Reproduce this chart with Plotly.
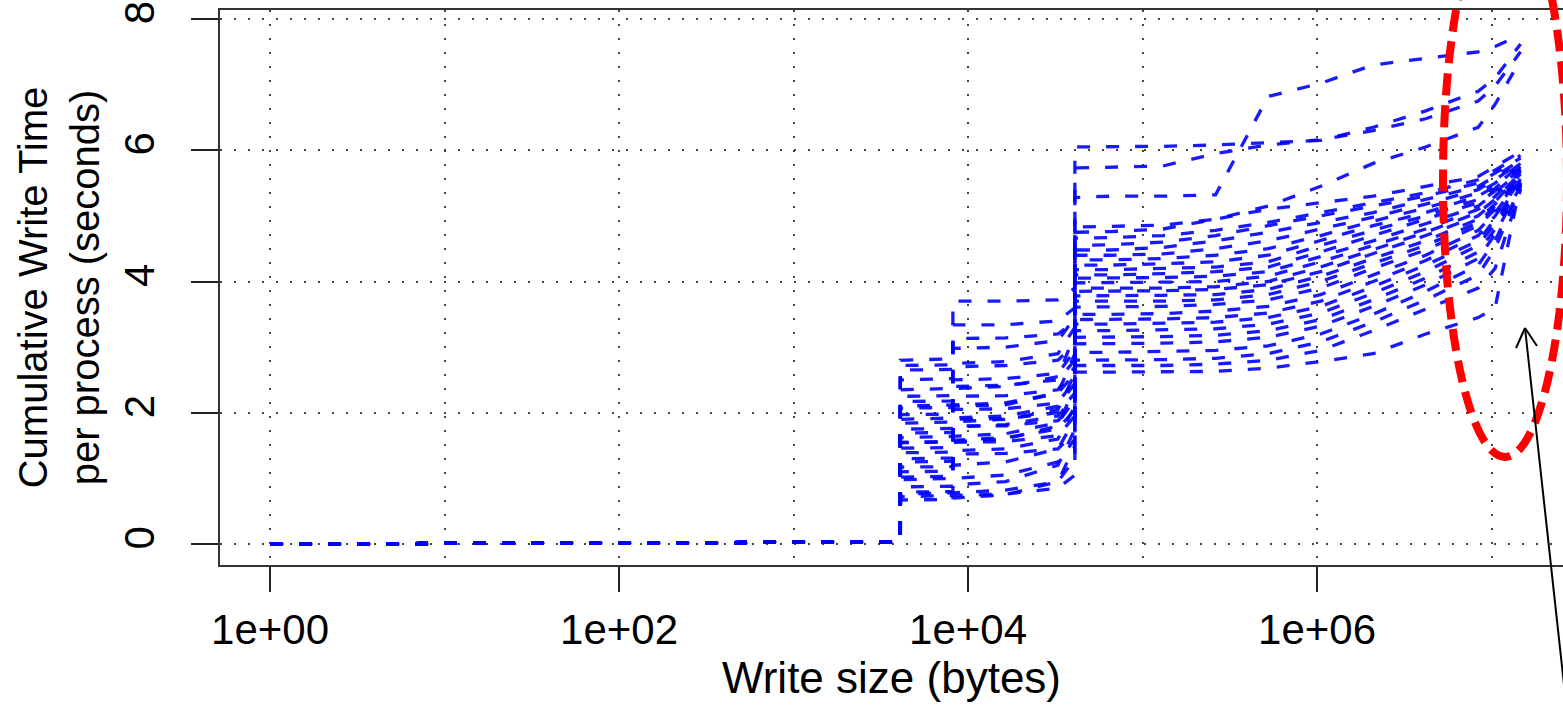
import plotly.graph_objects as go

# ---------------- data ----------------
# small writes (all processes): cumulative time stays ~0
SMALL_SIZES = [1, 100, 1000, 4095]
SMALL_TIMES = [0.0, 0.01, 0.02, 0.03]

# larger write sizes (bytes)
SIZES = [4096, 8191, 8192, 16384, 32768, 40959, 40960, 65536, 131072, 262144,
         524288, 1048576, 2097152, 4194304, 8388608, 10485760, 14680064]

# cumulative write time per process (seconds), one list per process
P01 = [2.80, 2.82, 3.70, 3.70, 3.72, 3.90, 5.28, 5.30, 5.30, 5.32, 6.82, 7.02, 7.30, 7.40, 7.50, 7.58, 7.76]
P02 = [2.65, 2.66, 3.34, 3.34, 3.40, 3.60, 6.05, 6.05, 6.06, 6.08, 6.12, 6.15, 6.35, 6.60, 6.90, 7.10, 7.62]
P03 = [2.50, 2.52, 2.98, 3.00, 3.10, 3.45, 5.73, 5.74, 5.76, 5.95, 6.08, 6.16, 6.30, 6.48, 6.75, 6.98, 7.50]
P04 = [2.35, 2.36, 2.37, 2.40, 2.55, 3.20, 4.83, 4.84, 4.86, 4.95, 5.15, 5.45, 5.80, 6.05, 6.35, 6.70, 7.38]
P05 = [2.17, 2.18, 3.13, 3.14, 3.20, 3.40, 4.75, 4.76, 4.80, 4.95, 5.10, 5.20, 5.30, 5.45, 5.60, 5.75, 5.98]
P06 = [2.07, 2.08, 2.10, 2.12, 2.30, 2.90, 4.66, 4.67, 4.70, 4.78, 4.90, 5.05, 5.20, 5.35, 5.55, 5.70, 5.92]
P07 = [1.97, 1.98, 2.70, 2.72, 2.80, 3.05, 4.55, 4.56, 4.60, 4.70, 4.85, 5.00, 5.15, 5.30, 5.50, 5.65, 5.88]
P08 = [1.84, 1.85, 1.86, 1.90, 2.05, 2.60, 4.48, 4.48, 4.52, 4.62, 4.75, 4.90, 5.05, 5.25, 5.45, 5.60, 5.85]
P09 = [1.69, 1.70, 2.50, 2.52, 2.60, 2.95, 4.40, 4.40, 4.42, 4.50, 4.62, 4.80, 4.98, 5.18, 5.40, 5.55, 5.82]
P10 = [1.54, 1.55, 1.56, 1.60, 1.80, 2.40, 4.33, 4.33, 4.35, 4.40, 4.50, 4.70, 4.92, 5.12, 5.35, 5.50, 5.80]
P11 = [1.46, 1.47, 2.25, 2.26, 2.35, 2.70, 4.25, 4.25, 4.27, 4.30, 4.40, 4.62, 4.85, 5.05, 5.30, 5.45, 5.78]
P12 = [1.39, 1.40, 1.42, 1.45, 1.60, 2.10, 4.18, 4.18, 4.20, 4.22, 4.30, 4.55, 4.78, 5.00, 5.25, 5.42, 5.75]
P13 = [1.25, 1.26, 2.05, 2.06, 2.15, 2.50, 4.10, 4.10, 4.12, 4.15, 4.22, 4.45, 4.70, 4.95, 5.20, 5.38, 5.72]
P14 = [1.17, 1.18, 1.20, 1.25, 1.45, 1.90, 4.05, 4.05, 4.06, 4.08, 4.15, 4.38, 4.62, 4.88, 5.15, 5.35, 5.70]
P15 = [1.02, 1.03, 1.90, 1.91, 2.00, 2.30, 3.98, 3.98, 3.99, 4.00, 4.08, 4.30, 4.55, 4.80, 5.10, 5.30, 5.68]
P16 = [0.87, 0.88, 0.90, 0.95, 1.20, 1.75, 3.90, 3.90, 3.90, 3.92, 4.00, 4.22, 4.48, 4.75, 5.05, 5.25, 5.66]
P17 = [0.79, 0.80, 1.80, 1.80, 1.88, 2.15, 3.85, 3.85, 3.86, 3.88, 3.95, 4.15, 4.42, 4.70, 5.00, 5.22, 5.64]
P18 = [0.67, 0.68, 0.70, 0.75, 0.95, 1.50, 3.78, 3.78, 3.79, 3.80, 3.88, 4.08, 4.35, 4.62, 4.95, 5.18, 5.62]
P19 = [2.72, 2.73, 2.75, 2.78, 2.90, 3.30, 3.70, 3.70, 3.70, 3.72, 3.80, 4.00, 4.28, 4.55, 4.90, 5.15, 5.60]
P20 = [2.25, 2.26, 2.40, 2.42, 2.50, 2.80, 3.61, 3.61, 3.62, 3.65, 3.72, 3.90, 4.20, 4.48, 4.85, 5.10, 5.58]
P21 = [1.62, 1.63, 1.64, 1.68, 1.85, 2.20, 3.50, 3.50, 3.51, 3.55, 3.62, 3.80, 4.10, 4.40, 4.78, 5.05, 5.56]
P22 = [1.30, 1.31, 1.55, 1.56, 1.65, 1.95, 3.42, 3.42, 3.43, 3.45, 3.52, 3.70, 4.00, 4.32, 4.70, 5.00, 5.54]
P23 = [0.98, 0.99, 1.00, 1.05, 1.25, 1.60, 3.35, 3.35, 3.36, 3.38, 3.45, 3.62, 3.92, 4.25, 4.62, 4.95, 5.52]
P24 = [1.90, 1.91, 1.92, 1.95, 2.10, 2.45, 3.25, 3.25, 3.26, 3.28, 3.35, 3.52, 3.82, 4.15, 4.55, 4.88, 5.50]
P25 = [1.75, 1.76, 1.78, 1.82, 1.95, 2.25, 3.15, 3.15, 3.16, 3.18, 3.25, 3.42, 3.72, 4.05, 4.45, 4.80, 5.48]
P26 = [1.10, 1.11, 1.37, 1.38, 1.45, 1.70, 3.05, 3.05, 3.06, 3.08, 3.15, 3.32, 3.62, 3.95, 4.35, 4.72, 5.46]
P27 = [0.76, 0.77, 0.78, 0.82, 0.95, 1.30, 2.92, 2.92, 2.93, 2.95, 3.02, 3.20, 3.50, 3.85, 4.25, 4.62, 5.44]
P28 = [1.55, 1.56, 1.58, 1.62, 1.75, 2.05, 2.80, 2.80, 2.81, 2.83, 2.90, 3.08, 3.38, 3.72, 4.10, 4.50, 5.42]
P29 = [2.10, 2.11, 2.12, 2.15, 2.30, 2.60, 2.72, 2.72, 2.72, 2.74, 2.80, 2.95, 3.25, 3.58, 3.90, 4.20, 5.40]
P30 = [0.72, 0.73, 0.74, 0.76, 0.85, 1.05, 2.62, 2.62, 2.62, 2.63, 2.68, 2.78, 2.90, 3.20, 3.45, 3.60, 5.50]

PROCESSES = [P01, P02, P03, P04, P05, P06, P07, P08, P09, P10, P11, P12, P13, P14, P15,
             P16, P17, P18, P19, P20, P21, P22, P23, P24, P25, P26, P27, P28, P29, P30]

X_TICKS = [1, 100, 10000, 1000000]
X_TICK_TEXT = ["1e+00", "1e+02", "1e+04", "1e+06"]
X_GRID = [10, 1000, 100000, 10000000]
Y_TICKS = [0, 2, 4, 6, 8]

# ---------------- figure ----------------
W, H = 1563, 708
ML, MR, MT, MB = 220, 0, 10, 143
PW, PH = W - ML - MR, H - MT - MB


def px(xp):
    return (xp - ML) / PW


def py(yp):
    return (H - MB - yp) / PH


FONT = "Liberation Sans, Arial, Helvetica, sans-serif"

fig = go.Figure()
for i, ys in enumerate(PROCESSES):
    fig.add_trace(go.Scatter(
        x=SMALL_SIZES + SIZES,
        y=SMALL_TIMES + ys,
        mode="lines",
        line=dict(color="rgba(0,0,255,0.9)", width=3.3, dash="13px,16px"),
        showlegend=False,
        hoverinfo="x+y",
        name=f"process {i + 1}",
    ))

grid_style = dict(gridcolor="#444444", gridwidth=1.6, griddash="2px,12px")

fig.update_layout(
    width=W, height=H,
    margin=dict(l=ML, r=MR, t=MT, b=MB, pad=0),
    paper_bgcolor="white", plot_bgcolor="white",
    font=dict(family=FONT, size=42, color="black"),
    showlegend=False,
    xaxis=dict(
        type="log", range=[-0.2867, 7.4097], automargin=False,
        tickmode="array", tickvals=X_TICKS, ticktext=X_TICK_TEXT,
        ticks="outside", ticklen=25, tickwidth=1.6, tickcolor="#222",
        showline=True, linecolor="#333", linewidth=2, mirror=True,
        showgrid=True, **grid_style,
        minor=dict(tickvals=X_GRID, showgrid=True, ticks="", **grid_style),
        zeroline=False,
        ticklabelstandoff=2,
        title=dict(text="Write size (bytes)", font=dict(size=44), standoff=4),
        tickfont=dict(size=42),
    ),
    yaxis=dict(
        range=[-0.32, 8.137], automargin=False,
        tickmode="array", tickvals=Y_TICKS,
        tickangle=-90,
        ticks="outside", ticklen=27, tickwidth=1.6, tickcolor="#222",
        showline=True, linecolor="#333", linewidth=2, mirror=False,
        showgrid=True, **grid_style,
        zeroline=False,
        ticklabelstandoff=20,
        title=dict(text="Cumulative Write Time<br>per process (seconds)", font=dict(size=40), standoff=4),
        tickfont=dict(size=42),
    ),
)

# red dashed ellipse annotation
fig.add_shape(type="circle", xref="paper", yref="paper",
              x0=px(1443), x1=px(1567), y0=py(457), y1=py(-97),
              line=dict(color="red", width=8, dash="22px,10px"), layer="above")

# black arrow
tip = (1525, 328)
for (x0, y0) in [(1567, 712), (1516, 348), (1537, 346)]:
    fig.add_shape(type="line", xref="paper", yref="paper",
                  x0=px(x0), y0=py(y0), x1=px(tip[0]), y1=py(tip[1]),
                  line=dict(color="black", width=2), layer="above")

fig.write_html(
    "out.html",
    config={"displayModeBar": False},
    post_script="document.body.style.margin='0';document.body.style.overflow='hidden';",
)
